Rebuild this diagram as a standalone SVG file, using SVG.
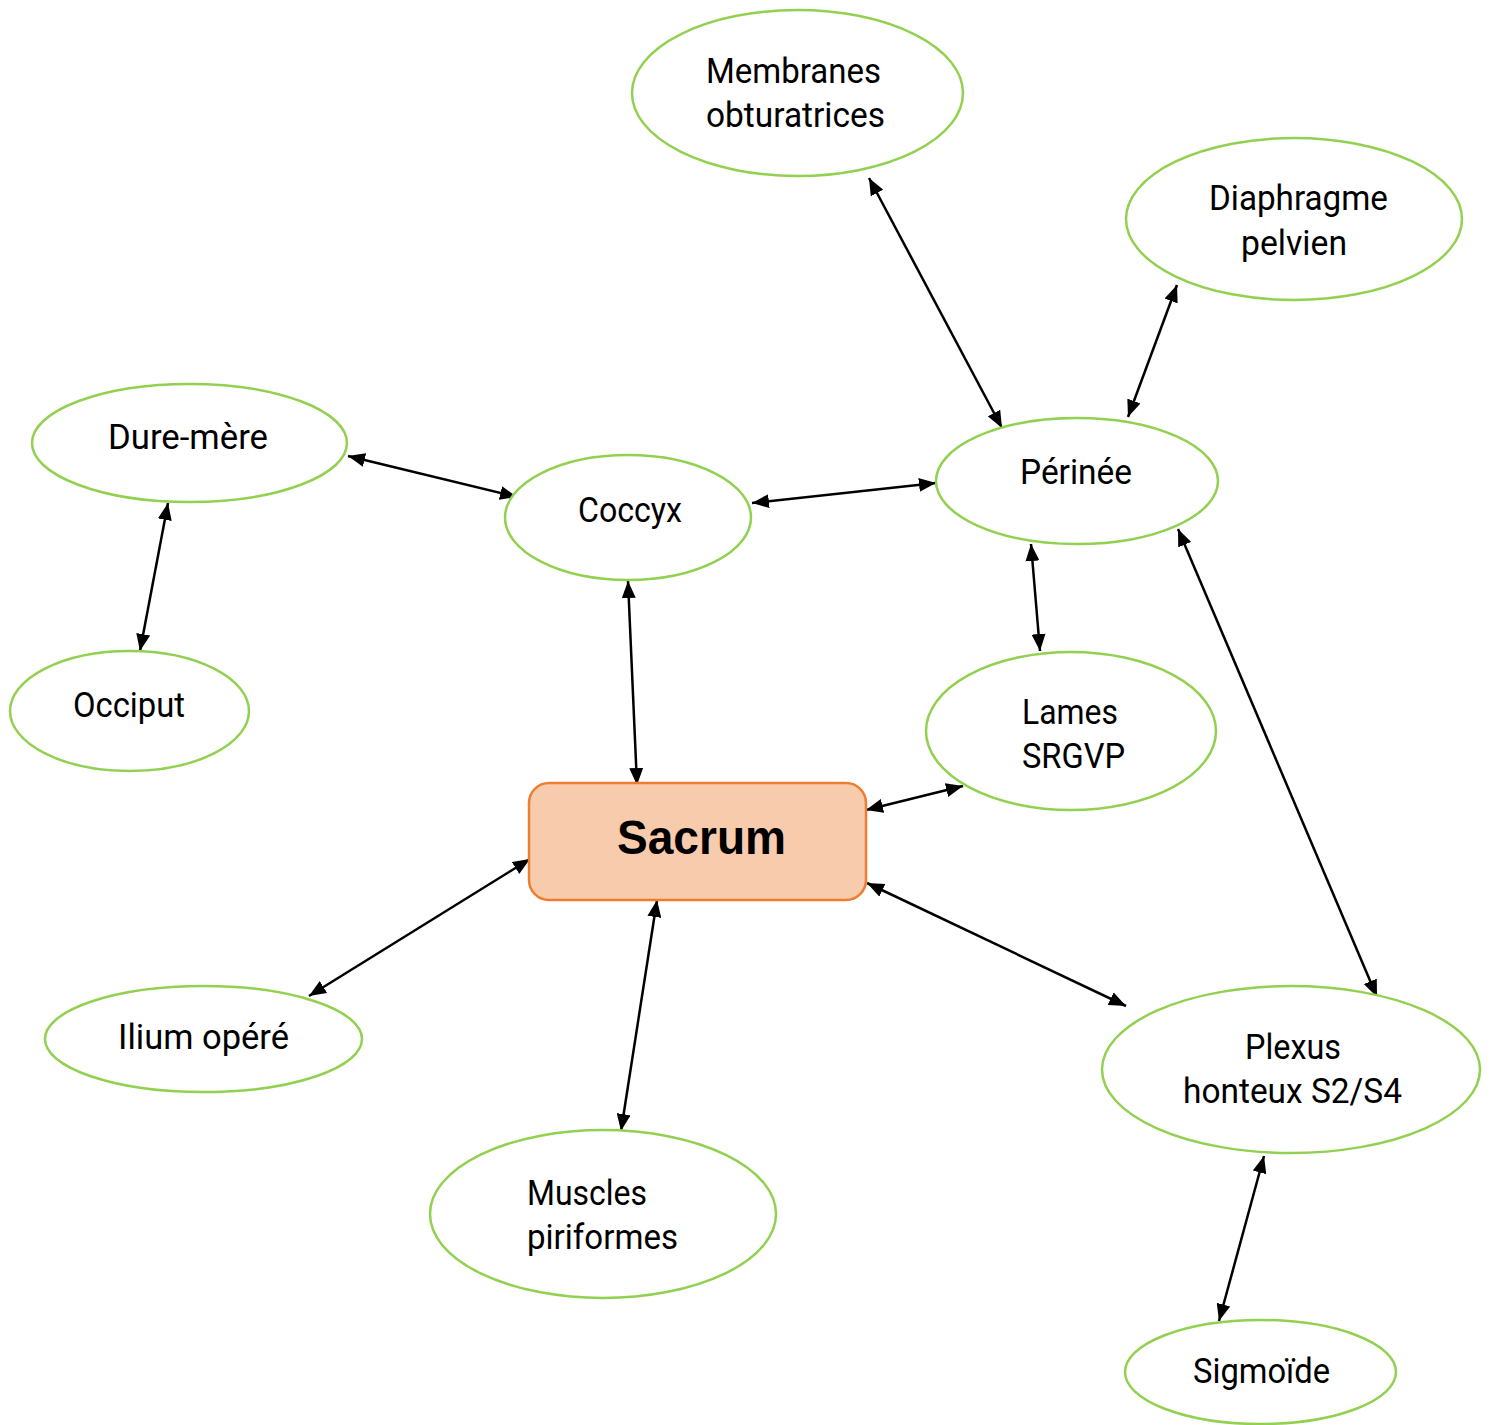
<svg xmlns="http://www.w3.org/2000/svg" width="1495" height="1425" viewBox="0 0 1495 1425">
  <defs>
    <marker id="arrow" viewBox="0 0 17 14" refX="17" refY="7" markerWidth="17" markerHeight="14" markerUnits="userSpaceOnUse" orient="auto-start-reverse">
      <path d="M0,0 L17,7 L0,14 z" fill="#000"/>
    </marker>
    <style>
      .node { fill: #fff; stroke: #92D050; stroke-width: 2.5; }
      .main { fill: #F8CBAD; stroke: #ED7D31; stroke-width: 2.5; }
      .lbl { font-family: "Liberation Sans Narrow", "Roboto", "Liberation Sans", sans-serif; font-size: 35px; fill: #000; }
      .big { font-family: "Liberation Sans", "Roboto", sans-serif; font-size: 48px; font-weight: bold; fill: #000; }
      .edge { stroke: #000; stroke-width: 2.5; fill: none; marker-start: url(#arrow); marker-end: url(#arrow); }
    </style>
  </defs>
  <rect width="1495" height="1425" fill="#fff"/>

  <g id="connectors">
    <line class="edge" x1="869" y1="178" x2="1002" y2="428"/>
    <line class="edge" x1="1177" y1="285" x2="1128" y2="417"/>
    <line class="edge" x1="348" y1="456" x2="517" y2="497"/>
    <line class="edge" x1="752" y1="503" x2="936" y2="483"/>
    <line class="edge" x1="168" y1="503" x2="140" y2="651"/>
    <line class="edge" x1="628" y1="581" x2="637" y2="785"/>
    <line class="edge" x1="1031" y1="544" x2="1040" y2="651"/>
    <line class="edge" x1="1178" y1="529" x2="1377" y2="997"/>
    <line class="edge" x1="963" y1="786" x2="866" y2="810"/>
    <line class="edge" x1="530" y1="859" x2="309" y2="996"/>
    <line class="edge" x1="657" y1="900" x2="621" y2="1131"/>
    <line class="edge" x1="867" y1="883" x2="1126" y2="1006"/>
    <line class="edge" x1="1264" y1="1156" x2="1219" y2="1321"/>
  </g>

  <g id="membranes">
    <ellipse class="node" cx="797.5" cy="93" rx="165.5" ry="83"/>
    <text class="lbl" x="706" y="83" textLength="175" lengthAdjust="spacingAndGlyphs">Membranes</text>
    <text class="lbl" x="706" y="127" textLength="179" lengthAdjust="spacingAndGlyphs">obturatrices</text>
  </g>
  <g id="diaphragme">
    <ellipse class="node" cx="1294" cy="219" rx="168" ry="81"/>
    <text class="lbl" x="1209" y="210" textLength="179" lengthAdjust="spacingAndGlyphs">Diaphragme</text>
    <text class="lbl" x="1241" y="255" textLength="106" lengthAdjust="spacingAndGlyphs">pelvien</text>
  </g>
  <g id="dure-mere">
    <ellipse class="node" cx="189.5" cy="443" rx="157.5" ry="59"/>
    <text class="lbl" x="108" y="449" textLength="160" lengthAdjust="spacingAndGlyphs">Dure-mère</text>
  </g>
  <g id="coccyx">
    <ellipse class="node" cx="628" cy="517.5" rx="123" ry="62.5"/>
    <text class="lbl" x="578" y="522" textLength="104" lengthAdjust="spacingAndGlyphs">Coccyx</text>
  </g>
  <g id="perinee">
    <ellipse class="node" cx="1077" cy="481" rx="141" ry="63"/>
    <text class="lbl" x="1020" y="484" textLength="112" lengthAdjust="spacingAndGlyphs">Périnée</text>
  </g>
  <g id="occiput">
    <ellipse class="node" cx="129.5" cy="711" rx="119.5" ry="60"/>
    <text class="lbl" x="73" y="717" textLength="112" lengthAdjust="spacingAndGlyphs">Occiput</text>
  </g>
  <g id="lames">
    <ellipse class="node" cx="1071" cy="731" rx="145" ry="79"/>
    <text class="lbl" x="1022" y="724" textLength="96" lengthAdjust="spacingAndGlyphs">Lames</text>
    <text class="lbl" x="1022" y="768" textLength="103" lengthAdjust="spacingAndGlyphs">SRGVP</text>
  </g>
  <g id="sacrum">
    <rect class="main" x="529" y="783" width="337" height="117" rx="20" ry="20"/>
    <text class="big" x="617" y="854" textLength="169" lengthAdjust="spacingAndGlyphs">Sacrum</text>
  </g>
  <g id="ilium">
    <ellipse class="node" cx="203.5" cy="1039" rx="158.5" ry="53"/>
    <text class="lbl" x="118" y="1049" textLength="171" lengthAdjust="spacingAndGlyphs">Ilium opéré</text>
  </g>
  <g id="muscles">
    <ellipse class="node" cx="603" cy="1214" rx="173" ry="84"/>
    <text class="lbl" x="527" y="1205" textLength="120" lengthAdjust="spacingAndGlyphs">Muscles</text>
    <text class="lbl" x="527" y="1249" textLength="151" lengthAdjust="spacingAndGlyphs">piriformes</text>
  </g>
  <g id="plexus">
    <ellipse class="node" cx="1291" cy="1069.5" rx="189" ry="83.5"/>
    <text class="lbl" x="1245" y="1059" textLength="96" lengthAdjust="spacingAndGlyphs">Plexus</text>
    <text class="lbl" x="1183" y="1103" textLength="219" lengthAdjust="spacingAndGlyphs">honteux S2/S4</text>
  </g>
  <g id="sigmoide">
    <ellipse class="node" cx="1260.5" cy="1372" rx="135.5" ry="52"/>
    <text class="lbl" x="1193" y="1383" textLength="137" lengthAdjust="spacingAndGlyphs">Sigmoïde</text>
  </g>
</svg>
